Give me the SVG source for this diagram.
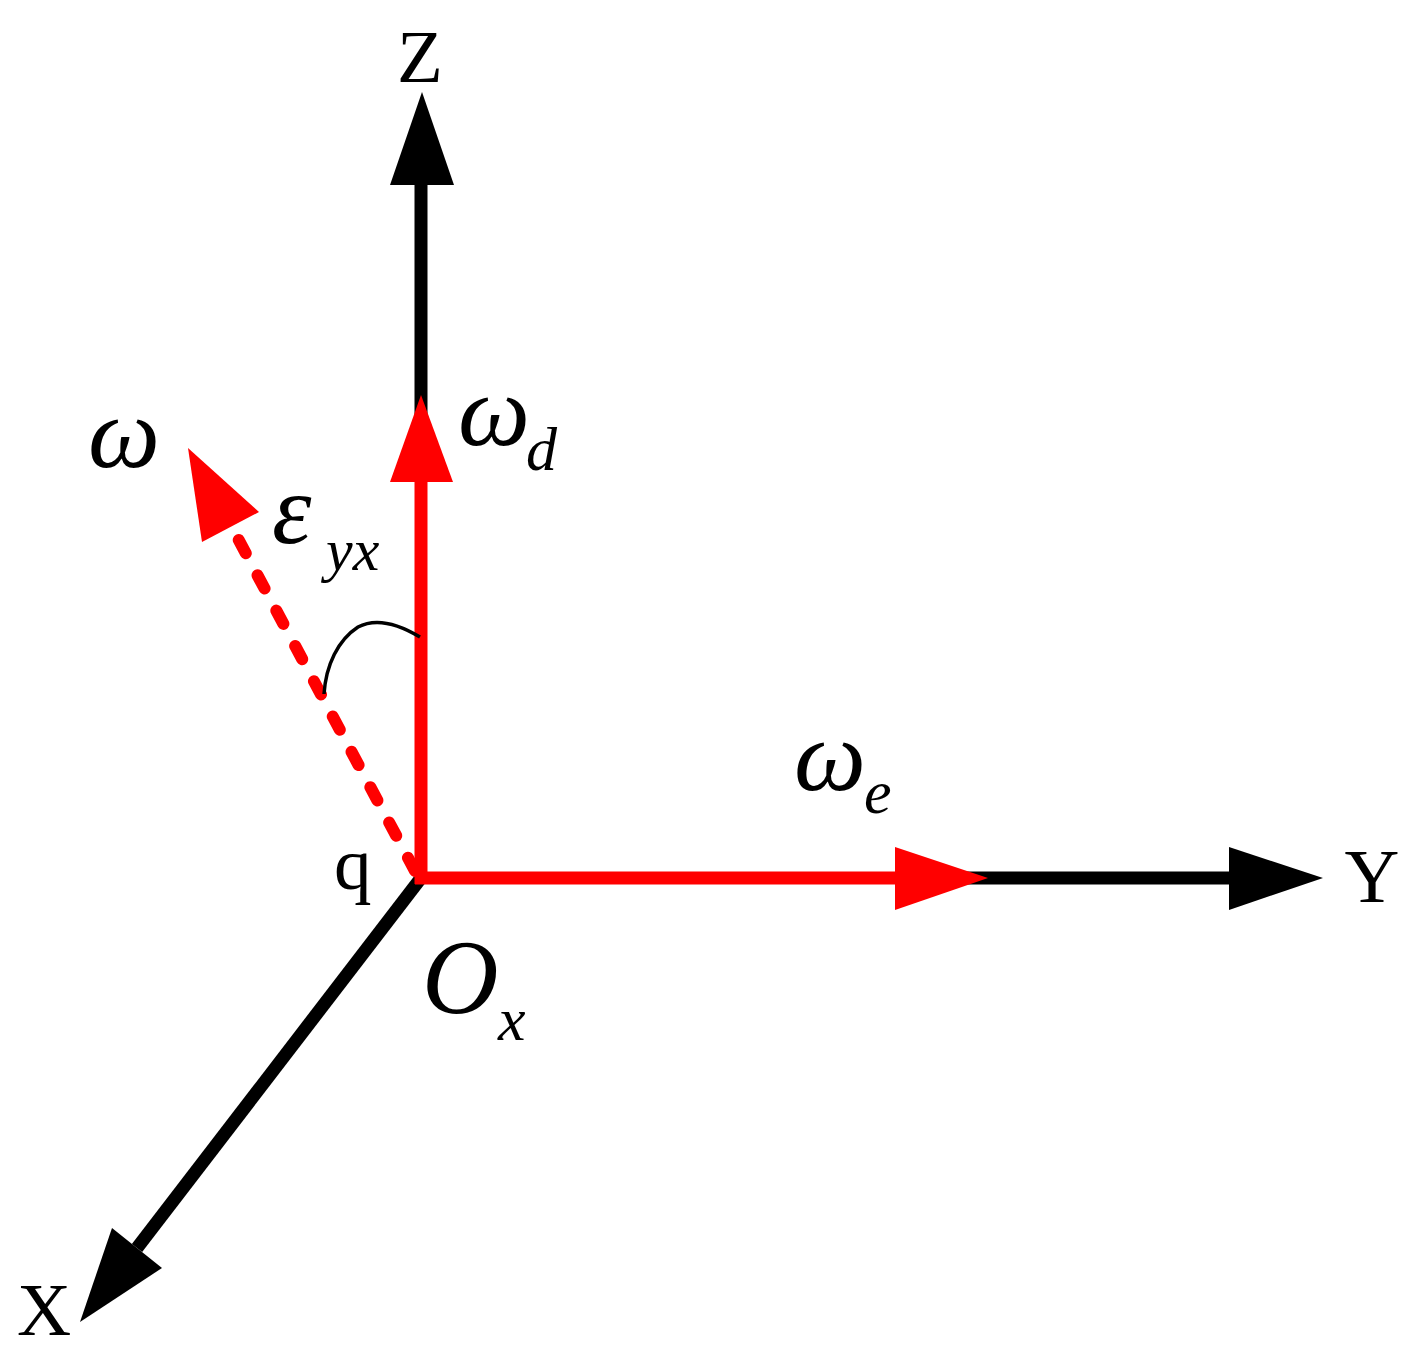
<svg xmlns="http://www.w3.org/2000/svg" width="1423" height="1363" viewBox="0 0 1423 1363">
<style>
.ax{stroke:#000;stroke-width:13;fill:none}
.rd{stroke:#ff0000;stroke-width:13;fill:none}
.dash{stroke:#ff0000;stroke-width:12;fill:none;stroke-dasharray:15 25;stroke-linecap:round}
.hk{fill:#000}
.hr{fill:#ff0000}
.lbl{font-family:"Liberation Serif","Times New Roman",serif;fill:#000}
.it{font-family:"Liberation Serif","Times New Roman",serif;font-style:italic;fill:#000}
</style>
<rect width="1423" height="1363" fill="#fff"/>
<g id="connectors">
  <line class="ax" x1="421" y1="878" x2="137" y2="1248"/>
  <polygon class="hk" points="80,1322 112,1228 162,1268"/>
  <line class="ax" x1="421" y1="430" x2="421" y2="180"/>
  <polygon class="hk" points="422,92 390,185 454,185"/>
  <line class="ax" x1="960" y1="878" x2="1235" y2="878"/>
  <polygon class="hk" points="1323,878 1229,847 1229,910"/>
  <line class="rd" x1="421" y1="884" x2="421" y2="478"/>
  <polygon class="hr" points="421,395 390,482 453,482"/>
  <line class="rd" x1="415" y1="878" x2="900" y2="878"/>
  <polygon class="hr" points="988,878 895,847 895,910"/>
  <path class="dash" d="M415,871 L235,533"/>
  <polygon class="hr" points="188,448 202,542 259,512"/>
  <path d="M324,694 C326,665 338,640 358,627 C375,618 395,622 420,637" fill="none" stroke="#000" stroke-width="3.5"/>
</g>
<g id="label-Z"><text class="lbl" x="420" y="82" font-size="75" text-anchor="middle">Z</text></g>
<g id="label-X"><text class="lbl" x="44" y="1335" font-size="75" text-anchor="middle">X</text></g>
<g id="label-Y"><text class="lbl" x="1372" y="902" font-size="76" text-anchor="middle">Y</text></g>
<g id="label-q"><text class="lbl" x="334" y="889" font-size="75">q</text></g>
<g id="label-omega"><text class="it" x="88" y="467" font-size="102">ω</text></g>
<g id="label-omega-d"><text class="it" x="458" y="445" font-size="102">ω</text><text class="it" x="526" y="470" font-size="62">d</text></g>
<g id="label-omega-e"><text class="it" x="794" y="790" font-size="102">ω</text><text class="it" x="864" y="813" font-size="62">e</text></g>
<g id="label-eps"><text class="it" x="272" y="543" font-size="100">ε</text><text class="it" x="326" y="570" font-size="60">yx</text></g>
<g id="label-O"><text class="it" x="422" y="1013" font-size="106">O</text><text class="it" x="498" y="1040" font-size="62">x</text></g>
</svg>
